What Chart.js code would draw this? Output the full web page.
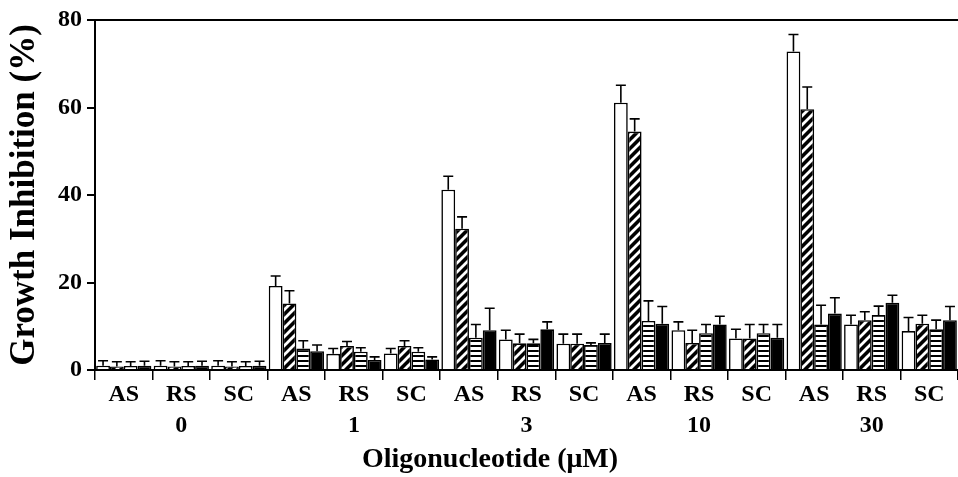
<!DOCTYPE html>
<html>
<head>
<meta charset="utf-8">
<script src="https://cdn.jsdelivr.net/npm/chart.js@4.4.0/dist/chart.umd.min.js"></script>
<style>
  html, body { margin: 0; padding: 0; background: #fff; }
  #wrap { width: 958px; height: 477px; }
</style>
</head>
<body>
<div id="wrap"><canvas id="chart" width="958" height="477"></canvas></div>
<script>
// ---------- data ----------
const oligos = ['AS', 'RS', 'SC'];
const concentrations = ['0', '1', '3', '10', '30'];
const yTicks = [0, 20, 40, 60, 80];

// mean growth inhibition (%) per bar, order: AS/RS/SC for 0, 1, 3, 10, 30 µM
const openValues    = [1.0, 1.0, 1.0, 19.2, 3.7, 3.8, 41.2, 7.0, 6.0, 61.1, 9.1, 7.2, 72.8, 10.4, 8.9];
const hatchValues   = [0.8, 0.8, 0.8, 15.2, 5.5, 5.5, 32.3, 6.1, 6.0, 54.5, 6.2, 7.2, 59.6, 11.4, 10.6];
const stripeValues  = [0.9, 0.9, 0.9, 4.9, 4.2, 4.2, 7.4, 6.1, 5.7, 11.2, 8.4, 8.4, 10.4, 12.6, 9.3];
const solidValues   = [1.0, 1.0, 1.0, 4.3, 2.3, 2.4, 9.1, 9.3, 6.2, 10.6, 10.4, 7.4, 12.9, 15.4, 11.4];

// standard deviations (upper error bars)
const openErrors    = [1.1, 1.1, 1.1, 2.3, 1.2, 1.1, 3.1, 2.1, 2.2, 4.0, 1.9, 2.1, 3.9, 2.1, 3.1];
const hatchErrors   = [1.1, 1.1, 1.1, 2.9, 1.0, 1.2, 2.7, 2.1, 2.2, 2.9, 2.9, 3.2, 5.1, 1.9, 1.9];
const stripeErrors  = [1.0, 1.0, 1.0, 1.8, 0.9, 0.9, 3.0, 0.9, 0.5, 4.6, 2.0, 2.0, 4.4, 2.0, 2.1];
const solidErrors   = [1.0, 1.0, 1.0, 1.4, 0.7, 0.6, 5.0, 1.7, 2.0, 3.9, 1.9, 3.0, 3.6, 1.7, 3.1];

// middle label of each group carries the concentration on a second line
const labels = [];
concentrations.forEach(c => {
    oligos.forEach((o, i) => {
        labels.push(i === 1 ? [o, c] : o);
    });
});

// ---------- fill patterns ----------
function diagonalPattern() {
    const s = 9;
    const c = document.createElement('canvas');
    c.width = c.height = s;
    const g = c.getContext('2d');
    g.fillStyle = '#000';
    g.fillRect(0, 0, s, s);
    g.strokeStyle = '#fff';
    g.lineWidth = 2.8;
    g.beginPath();
    g.moveTo(-1, s + 1); g.lineTo(s + 1, -1);
    g.moveTo(-s / 2 - 1, s / 2 + 1); g.lineTo(s / 2 + 1, -s / 2 - 1);
    g.moveTo(s / 2 - 1, s * 1.5 + 1); g.lineTo(s * 1.5 + 1, s / 2 - 1);
    g.stroke();
    return g.createPattern(c, 'repeat');
}

function horizontalPattern() {
    const c = document.createElement('canvas');
    c.width = 4; c.height = 5;
    const g = c.getContext('2d');
    g.fillStyle = '#fff';
    g.fillRect(0, 0, 4, 5);
    g.fillStyle = '#000';
    g.fillRect(0, 0, 4, 2);
    return g.createPattern(c, 'repeat');
}

// ---------- error bars ----------
const errorBars = {
    id: 'errorBars',
    afterDatasetsDraw(chart) {
        const ctx = chart.ctx;
        const yScale = chart.scales.y;
        ctx.save();
        ctx.strokeStyle = '#000';
        ctx.lineWidth = 1.6;
        chart.data.datasets.forEach((ds, i) => {
            const meta = chart.getDatasetMeta(i);
            meta.data.forEach((bar, j) => {
                const top = yScale.getPixelForValue(ds.data[j] + ds.errors[j]);
                ctx.beginPath();
                ctx.moveTo(bar.x, bar.y);
                ctx.lineTo(bar.x, top);
                ctx.moveTo(bar.x - 5, top);
                ctx.lineTo(bar.x + 5, top);
                ctx.stroke();
            });
        });
        ctx.restore();
    }
};

const serif = "'Liberation Serif', 'Times New Roman', serif";

const barStyle = {
    borderColor: '#000',
    borderWidth: 1.6,
    categoryPercentage: 0.96,
    barPercentage: 1.0
};

new Chart(document.getElementById('chart'), {
    type: 'bar',
    data: {
        labels: labels,
        datasets: [
            Object.assign({ data: openValues, errors: openErrors, backgroundColor: '#fff' }, barStyle),
            Object.assign({ data: hatchValues, errors: hatchErrors, backgroundColor: diagonalPattern() }, barStyle),
            Object.assign({ data: stripeValues, errors: stripeErrors, backgroundColor: horizontalPattern() }, barStyle),
            Object.assign({ data: solidValues, errors: solidErrors, backgroundColor: '#000' }, barStyle)
        ]
    },
    options: {
        responsive: false,
        animation: false,
        devicePixelRatio: 1,
        // left padding shifts the bottom title box so the axis title sits left of centre
        layout: { padding: { top: 20, right: 0, left: 22, bottom: 0 } },
        plugins: {
            legend: { display: false },
            tooltip: { enabled: false },
            title: {
                display: true,
                position: 'bottom',
                text: 'Oligonucleotide (\u03BCM)',
                color: '#000',
                font: { family: serif, size: 28, weight: 'bold', lineHeight: 1.2 },
                padding: 0
            }
        },
        scales: {
            x: {
                afterFit: s => { s.height = 73.4; },
                border: { display: true, color: '#000', width: 2 },
                grid: {
                    display: true,
                    offset: true,
                    drawOnChartArea: false,
                    color: '#000',
                    lineWidth: 1.5,
                    tickLength: 10
                },
                ticks: {
                    color: '#000',
                    autoSkip: false,
                    maxRotation: 0,
                    padding: -1,
                    font: { family: serif, size: 24, weight: 'bold', lineHeight: 1.3 }
                }
            },
            y: {
                min: 0,
                max: 80,
                afterFit: s => { s.width = 73; },
                afterBuildTicks: s => { s.ticks = yTicks.map(v => ({ value: v })); },
                border: { display: true, color: '#000', width: 2 },
                grid: {
                    color: c => (c.tick && c.tick.value === 80 ? '#000' : 'rgba(0,0,0,0)'),
                    tickColor: '#000',
                    lineWidth: 2,
                    tickLength: 8
                },
                ticks: {
                    color: '#000',
                    padding: 5,
                    font: { family: serif, size: 24, weight: 'bold' }
                },
                title: {
                    display: true,
                    text: 'Growth Inhibition (%)',
                    color: '#000',
                    font: { family: serif, size: 35, weight: 'bold', lineHeight: 1 },
                    padding: { top: -14.5, bottom: 0 }
                }
            }
        }
    },
    plugins: [errorBars]
});
</script>
</body>
</html>
